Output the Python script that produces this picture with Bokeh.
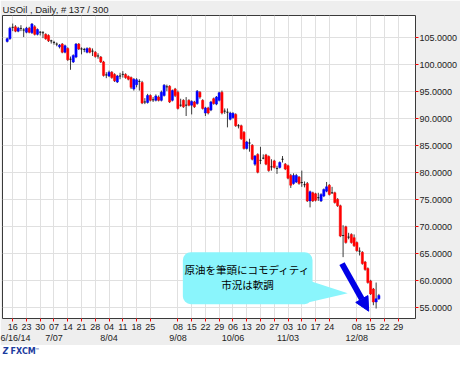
import pandas as pd
from bokeh.plotting import figure
from bokeh.models import (Range1d, LinearAxis, FixedTicker, BoxAnnotation, PolyAnnotation,
                          Label, Arrow, NormalHead, ColumnDataSource, NumeralTickFormatter)
from bokeh.layouts import column
from bokeh.embed import file_html
from bokeh.resources import INLINE
from bokeh.core.properties import value

# ---------------- data ----------------
start_date = "2014-06-12"
title_text = "USOil , Daily, # 137 / 300"

opens = [104.3, 104.8, 106.9, 107.0, 106.2, 106.7, 106.4, 106.0, 106.75, 105.9,
         107.0, 105.6, 106.0, 105.9, 105.6, 105.4, 104.4, 104.1, 103.8, 103.3,
         103.8, 102.3, 103.0, 101.0, 100.5, 101.4, 103.8, 102.9, 102.8, 102.3,
         103.0, 102.5, 102.3, 101.6, 101.4, 100.5, 98.1, 97.9, 98.6, 98.2,
         96.8, 97.9, 98.2, 98.2, 97.8, 97.6, 95.5, 96.3, 96.9, 96.7,
         93.1, 93.0, 94.3, 93.5, 93.4, 94.0, 93.4, 94.3, 95.9, 96.0,
         93.4, 95.5, 94.9, 92.5, 93.4, 92.5, 93.4, 92.5, 93.1, 92.8,
         94.9, 93.4, 91.05, 92.0, 91.6, 93.7, 92.7, 93.4, 94.9, 91.4,
         91.2, 89.9, 90.2, 90.8, 88.7, 88.7, 87.5, 84.5, 85.5, 85.1,
         81.6, 83.4, 82.3, 82.7, 83.3, 83.0, 81.1, 82.2, 80.8, 81.0,
         82.5, 81.6, 81.3, 79.5, 78.0, 78.3, 79.2, 78.2, 77.8, 78.0,
         74.8, 76.3, 76.1, 75.4, 74.8, 75.7, 76.6, 77.7, 76.3, 76.3,
         75.1, 73.9, 68.4, 70.0, 68.1, 68.6, 68.0, 67.1, 65.5, 65.3,
         63.5, 62.3, 60.0, 58.5, 56.1, 56.7]
highs = [105.0, 107.0, 107.6, 107.3, 107.0, 107.3, 106.75, 107.0, 107.0, 107.7,
         107.3, 106.7, 106.2, 106.2, 105.8, 105.6, 104.6, 104.4, 104.1, 103.8,
         104.0, 103.7, 103.2, 101.5, 101.9, 104.0, 104.0, 103.2, 103.1, 103.2,
         103.2, 103.0, 102.5, 102.1, 101.6, 100.7, 98.6, 98.9, 98.8, 98.4,
         98.1, 98.5, 98.8, 98.4, 98.0, 97.8, 97.5, 97.5, 97.3, 97.0,
         93.8, 94.6, 94.5, 94.0, 94.5, 94.3, 95.2, 96.4, 96.3, 96.2,
         95.4, 95.7, 95.2, 93.7, 93.6, 94.0, 93.6, 93.4, 93.3, 95.3,
         95.1, 93.6, 92.2, 92.2, 93.3, 93.9, 94.2, 95.0, 95.2, 91.9,
         91.9, 91.3, 91.2, 91.0, 89.0, 88.9, 87.7, 85.9, 86.3, 85.3,
         83.3, 83.6, 84.8, 83.4, 83.5, 83.2, 82.5, 82.4, 81.3, 82.1,
         83.1, 81.8, 81.5, 79.8, 79.9, 79.8, 79.4, 80.4, 78.4, 78.3,
         76.7, 76.5, 76.3, 76.3, 76.2, 77.1, 78.3, 77.9, 77.4, 76.5,
         75.3, 74.1, 70.3, 70.2, 68.9, 68.8, 68.6, 67.3, 66.2, 65.5,
         63.7, 62.5, 60.2, 58.7, 59.7, 57.6]
lows = [104.1, 104.6, 106.2, 106.0, 106.0, 106.2, 105.1, 105.8, 105.8, 105.7,
        105.4, 105.4, 105.4, 104.9, 104.6, 104.2, 103.9, 103.7, 103.4, 103.0,
        102.1, 102.1, 100.7, 99.05, 100.3, 101.2, 102.7, 101.9, 102.3, 102.1,
        102.1, 101.6, 101.3, 101.1, 100.3, 97.8, 97.5, 97.7, 97.4, 96.8,
        96.6, 97.3, 97.6, 97.4, 97.1, 95.5, 95.2, 95.8, 95.2, 92.7,
        92.7, 92.8, 93.2, 93.1, 93.2, 93.2, 93.2, 94.1, 95.1, 92.9,
        93.2, 94.0, 91.7, 92.2, 92.0, 90.5, 92.3, 90.8, 92.0, 92.6,
        93.7, 91.7, 90.5, 90.8, 91.4, 92.6, 92.5, 93.2, 90.8, 90.9,
        88.4, 89.7, 90.0, 88.5, 88.2, 86.1, 84.3, 84.3, 83.9, 82.3,
        81.3, 79.9, 81.6, 82.5, 81.4, 80.2, 80.4, 80.8, 79.8, 80.8,
        81.9, 80.5, 78.8, 77.2, 77.8, 78.1, 77.8, 77.4, 77.3, 74.6,
        73.6, 74.6, 74.7, 74.8, 74.6, 75.5, 76.4, 75.8, 76.1, 74.3,
        73.7, 68.1, 64.4, 66.9, 67.7, 66.9, 66.3, 65.4, 64.7, 63.0,
        61.9, 59.5, 57.4, 55.5, 54.9, 56.5]
closes = [104.8, 106.75, 106.9, 106.2, 106.75, 106.7, 106.4, 106.75, 106.0, 107.5,
          105.6, 106.5, 106.0, 105.9, 104.8, 104.4, 104.4, 104.1, 103.8, 103.6,
          102.3, 103.5, 100.9, 101.0, 101.7, 103.8, 102.9, 102.9, 102.8, 103.0,
          102.3, 102.5, 101.5, 101.6, 100.5, 98.0, 98.1, 98.6, 97.6, 97.0,
          97.9, 97.9, 98.2, 97.6, 97.3, 95.8, 97.3, 97.2, 96.9, 92.9,
          93.1, 94.3, 93.4, 93.5, 94.2, 93.4, 94.9, 96.2, 95.9, 93.1,
          95.2, 94.3, 91.9, 92.5, 92.2, 92.5, 92.5, 93.2, 92.2, 95.1,
          94.0, 91.9, 92.0, 91.05, 93.1, 92.8, 94.0, 94.8, 91.05, 91.4,
          91.2, 91.05, 91.0, 88.7, 88.7, 86.3, 84.5, 85.7, 85.5, 82.5,
          83.1, 80.1, 82.3, 82.7, 81.6, 80.4, 81.1, 81.0, 80.8, 81.9,
          82.5, 80.7, 79.0, 77.7, 79.5, 79.5, 78.0, 78.2, 77.8, 74.8,
          76.5, 74.8, 74.9, 75.4, 76.0, 76.9, 77.4, 76.0, 76.3, 74.5,
          73.9, 68.3, 68.4, 67.1, 68.1, 67.1, 66.5, 65.6, 65.5, 63.2,
          62.1, 59.7, 57.6, 56.1, 56.7, 57.3]

price_ticks = [55, 60, 65, 70, 75, 80, 85, 90, 95, 100, 105]
week_tick_dates = ["2014-06-16", "2014-06-23", "2014-06-30", "2014-07-07", "2014-07-14",
                   "2014-07-21", "2014-07-28", "2014-08-04", "2014-08-11", "2014-08-18",
                   "2014-08-25", "2014-09-08", "2014-09-15", "2014-09-22", "2014-09-29",
                   "2014-10-06", "2014-10-13", "2014-10-20", "2014-10-27", "2014-11-03",
                   "2014-11-10", "2014-11-17", "2014-11-24", "2014-12-08", "2014-12-15",
                   "2014-12-22", "2014-12-29"]
week_labels = ["16", "23", "30", "07", "14", "21", "28", "04", "11", "18", "25",
               "08", "15", "22", "29", "06", "13", "20", "27", "03", "10", "17", "24",
               "08", "15", "22", "29"]
month_tick_dates = ["2014-06-16", "2014-07-07", "2014-08-04", "2014-09-08",
                    "2014-10-06", "2014-11-03", "2014-12-08"]
month_labels = ["6/16/14", "7/07", "8/04", "9/08", "10/06", "11/03", "12/08"]
callout_lines = ["原油を筆頭にコモディティ", "市況は軟調"]
logo_text = "FXCM"

# ---------------- derived ----------------
days = pd.bdate_range(start_date, periods=220)
pos = {d.strftime("%Y-%m-%d"): i for i, d in enumerate(days)}
week_ticks = [pos[d] for d in week_tick_dates]
month_ticks = [pos[d] for d in month_tick_dates]

n = len(closes)
xs = list(range(n))
cols = []
for o, c in zip(opens, closes):
    cols.append("#0000ff" if c > o else ("#ff0000" if c < o else "#000000"))
src = ColumnDataSource(dict(
    x=xs, o=opens, h=highs, l=lows, c=closes,
    top=[max(o, c) for o, c in zip(opens, closes)],
    bot=[min(o, c) for o, c in zip(opens, closes)],
    col=cols))

FONT = "Liberation Sans"

p = figure(width=460, height=345,
           x_range=Range1d(-1.7, 148.3), y_range=Range1d(53.05, 109.09),
           output_backend="svg", toolbar_location=None, y_axis_location="right",
           min_border_left=2, min_border_right=0, min_border_top=0, min_border_bottom=0,
           background_fill_color="white", border_fill_color="#eeeeee",
           outline_line_color="#3a3a3a", outline_line_width=1)

p.title.text = title_text
p.title.text_font = FONT
p.title.text_font_size = "9.5px"
p.title.text_font_style = "normal"
p.title.text_color = "#222222"
p.title.align = "left"
p.title.standoff = 2

# right price axis
ya = p.yaxis[0]
ya.ticker = FixedTicker(ticks=price_ticks)
ya.formatter = NumeralTickFormatter(format="0.0000")
ya.major_label_text_font = FONT
ya.major_label_text_font_size = "9px"
ya.major_label_text_color = "#222222"
ya.major_tick_line_color = "#ff0000"
ya.major_tick_in = 0
ya.major_tick_out = 3
ya.minor_tick_line_color = None
ya.axis_line_color = None
ya.major_label_standoff = 1

# bottom week axis
xa = p.xaxis[0]
xa.ticker = FixedTicker(ticks=week_ticks)
xa.major_label_overrides = {t: lbl for t, lbl in zip(week_ticks, week_labels)}
xa.major_label_text_font = FONT
xa.major_label_text_font_size = "9px"
xa.major_label_text_color = "#222222"
xa.major_tick_line_color = "#ff0000"
xa.major_tick_in = 0
xa.major_tick_out = 3
xa.minor_tick_line_color = None
xa.axis_line_color = None
xa.major_label_standoff = 2

# month axis
ma = LinearAxis(ticker=FixedTicker(ticks=month_ticks),
                major_label_overrides={t: lbl for t, lbl in zip(month_ticks, month_labels)},
                major_label_text_font=FONT, major_label_text_font_size="9px",
                major_label_text_color="#222222", major_tick_line_color=None,
                minor_tick_line_color=None, axis_line_color=None,
                major_label_standoff=0, major_tick_in=0, major_tick_out=0)
p.add_layout(ma, "below")

p.xgrid.ticker = FixedTicker(ticks=week_ticks)
p.ygrid.ticker = FixedTicker(ticks=price_ticks)
p.grid.grid_line_color = "#e0e0e0"
p.grid.grid_line_width = 1

# candles
p.segment(x0="x", y0="l", x1="x", y1="h", source=src, line_color="#3c3c3c", line_width=1)
p.vbar(x="x", width=0.8, top="top", bottom="bot", source=src,
       fill_color="col", line_color="col", line_width=0.5)

# callout
CYAN = "#8af5fc"
p.add_layout(PolyAnnotation(xs=[110.0, 123.7, 110.0], ys=[60.0, 57.7, 56.1],
                            fill_color=CYAN, fill_alpha=1, line_color=None))
p.add_layout(BoxAnnotation(left=63.8, right=110.9, bottom=55.7, top=65.3,
                           fill_color=CYAN, fill_alpha=1, line_color=None,
                           border_radius=8))
for yv, txt in zip([62.1, 59.4], callout_lines):
    p.add_layout(Label(x=87.3, y=yv, text=txt, text_align="center", text_baseline="middle",
                       text_font="Noto Sans CJK JP", text_font_size="10.5px",
                       text_color="#000000"))

# arrow
p.add_layout(Arrow(x_start=121.6, y_start=63.2, x_end=131.3, y_end=54.4,
                   line_color="#0000e6", line_width=6,
                   end=NormalHead(size=14, fill_color="#0000e6", line_color="#0000e6")))

# logo strip
lg = figure(width=460, height=12, x_range=Range1d(0, 460), y_range=Range1d(0, 12),
            output_backend="svg", toolbar_location=None, x_axis_type=None, y_axis_type=None,
            min_border=0, outline_line_color=None,
            background_fill_color="white", border_fill_color="white")
lg.text(x=[0], y=[6], text=["Z"], text_font=value("DejaVu Sans"), text_font_size="8px",
        text_font_style="bold italic", text_color="#1d3c9e", text_baseline="middle")
lg.text(x=[9], y=[6], text=[logo_text], text_font=value("DejaVu Sans"), text_font_size="8px",
        text_font_style="bold", text_color="#1d3c9e", text_baseline="middle")
lg.text(x=[36], y=[8], text=["™"], text_font=value("DejaVu Sans"), text_font_size="5px",
        text_color="#1d3c9e", text_baseline="middle")

layout = column(p, lg, spacing=0)
open("out.html", "w").write(file_html(layout, INLINE))
